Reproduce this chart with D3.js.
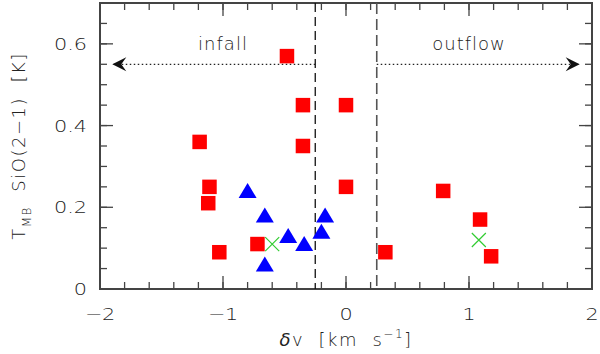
<!DOCTYPE html>
<html lang="en">
<head>
<meta charset="utf-8">
<title>SiO vs dv</title>
<script src="https://cdnjs.cloudflare.com/ajax/libs/d3/7.8.5/d3.min.js"></script>
<style>
  body { margin: 0; background: #fff; }
  text { font-family: "DejaVu Sans", sans-serif; font-weight: 200; fill: #222; white-space: pre; }
</style>
</head>
<body>
<div id="chart"></div>
<script>
// data
var squareX = [-0.48, -1.19, -0.35, -0.35, 0.0, 0.0, 0.79, 1.09, 0.32, 1.18, -1.11, -1.12, -1.03, -0.72];
var squareY = [0.57, 0.36, 0.45, 0.35, 0.45, 0.25, 0.24, 0.17, 0.09, 0.08, 0.25, 0.21, 0.09, 0.11];
var triX = [-0.80, -0.66, -0.66, -0.47, -0.34, -0.20, -0.17];
var triY = [0.24, 0.18, 0.06, 0.13, 0.11, 0.14, 0.18];
var crossX = [-0.60, 1.08];
var crossY = [0.11, 0.12];
var xTicks = [-2, -1, 0, 1, 2];
var yTicks = [0, 0.2, 0.4, 0.6];
var cuts = [-0.25, 0.25];

var width = 600, height = 354;
var pL = 100, pR = 592, pT = 3, pB = 289;

var svg = d3.select("#chart").append("svg").attr("width", width).attr("height", height);

var x = d3.scaleLinear().domain([-2, 2]).range([pL, pR]);
var y = d3.scaleLinear().domain([0, 0.7]).range([pB, pT]);

var frame = "#444";

// minor + major ticks on all four sides
function xticks(values, len) {
    values.forEach(function(v) {
        svg.append("line").attr("x1", x(v)).attr("x2", x(v)).attr("y1", pB).attr("y2", pB - len).attr("stroke", frame).attr("stroke-width", 1.3);
        svg.append("line").attr("x1", x(v)).attr("x2", x(v)).attr("y1", pT).attr("y2", pT + len).attr("stroke", frame).attr("stroke-width", 1.3);
    });
}
function yticks(values, len) {
    values.forEach(function(v) {
        svg.append("line").attr("x1", pL).attr("x2", pL + len).attr("y1", y(v)).attr("y2", y(v)).attr("stroke", frame).attr("stroke-width", 1.3);
        svg.append("line").attr("x1", pR).attr("x2", pR - len).attr("y1", y(v)).attr("y2", y(v)).attr("stroke", frame).attr("stroke-width", 1.3);
    });
}
xticks(d3.range(-2, 2.001, 0.2), 7);
xticks(xTicks, 13);
yticks(d3.range(0, 0.701, 0.05), 7);
yticks(yTicks, 13);

svg.append("rect").attr("x", pL).attr("y", pT).attr("width", pR - pL).attr("height", pB - pT)
    .attr("fill", "none").attr("stroke", frame).attr("stroke-width", 2);

// tick labels: wide plotter-style digits, stretched horizontally
var fmt = d3.format("");
svg.selectAll("text.xt").data(xTicks).enter().append("text")
    .attr("transform", function(d) { return "translate(" + x(d) + ",320) scale(1.3,1)"; })
    .attr("text-anchor", "middle").attr("font-size", "16px")
    .text(function(d) { return fmt(d); });
svg.selectAll("text.yt").data(yTicks).enter().append("text")
    .attr("transform", function(d) { return "translate(87," + (y(d) + 6) + ") scale(1.3,1)"; })
    .attr("text-anchor", "end").attr("font-size", "16px")
    .text(function(d) { return fmt(d); });

// axis titles
svg.append("text").attr("x", 346).attr("y", 346).attr("text-anchor", "middle").attr("font-size", "18px").attr("letter-spacing", "1.5px")
    .html('<tspan font-style="italic">δ</tspan>v  [km  s<tspan dy="-8" font-size="12px">−1</tspan><tspan dy="8">]</tspan>');

var yl = svg.append("text").attr("transform", "translate(25,146) rotate(-90)")
    .attr("text-anchor", "middle").attr("font-size", "18px").attr("letter-spacing", "1.5px");
yl.append("tspan").text("T");
yl.append("tspan").attr("dy", 6).attr("font-size", "12px").text("MB");
yl.append("tspan").attr("dy", -6).text("  SiO(2−1)  [K]");

// velocity cuts
svg.append("line").attr("x1", x(cuts[0])).attr("x2", x(cuts[0])).attr("y1", pT).attr("y2", pB)
    .attr("stroke", "#111").attr("stroke-width", 1.3).attr("stroke-dasharray", "9,5");
svg.append("line").attr("x1", x(cuts[1])).attr("x2", x(cuts[1])).attr("y1", pT).attr("y2", pB)
    .attr("stroke", "#555").attr("stroke-width", 1.6).attr("stroke-dasharray", "11,5");

// infall / outflow arrows
var ya = y(0.55);
svg.append("line").attr("x1", x(cuts[0])).attr("x2", x(-1.9)).attr("y1", ya).attr("y2", ya)
    .attr("stroke", "#222").attr("stroke-width", 1.2).attr("stroke-dasharray", "1.5,2.5");
svg.append("line").attr("x1", x(cuts[1])).attr("x2", x(1.9)).attr("y1", ya).attr("y2", ya)
    .attr("stroke", "#222").attr("stroke-width", 1.2).attr("stroke-dasharray", "1.5,2.5");
svg.append("path").attr("d", "M" + (x(-1.9) + 14) + "," + (ya - 7) + " L" + x(-1.9) + "," + ya + " L" + (x(-1.9) + 14) + "," + (ya + 7) + " L" + (x(-1.9) + 9) + "," + ya + " Z")
    .attr("fill", "#111");
svg.append("path").attr("d", "M" + (x(1.9) - 14) + "," + (ya - 7) + " L" + x(1.9) + "," + ya + " L" + (x(1.9) - 14) + "," + (ya + 7) + " L" + (x(1.9) - 9) + "," + ya + " Z")
    .attr("fill", "#111");
svg.append("text").attr("x", x(-1)).attr("y", 50).attr("text-anchor", "middle").attr("font-size", "18px").attr("letter-spacing", "1px").text("infall");
svg.append("text").attr("x", x(1)).attr("y", 50).attr("text-anchor", "middle").attr("font-size", "18px").attr("letter-spacing", "1px").text("outflow");

// markers
var sq = 14.5;
svg.selectAll("rect.sq").data(squareX).enter().append("rect")
    .attr("x", function(d) { return x(d) - sq / 2; })
    .attr("y", function(d, i) { return y(squareY[i]) - sq / 2; })
    .attr("width", sq).attr("height", sq).attr("fill", "#f00");

svg.selectAll("path.tri").data(triX).enter().append("path")
    .attr("d", function(d, i) {
        var cx = x(d), cy = y(triY[i]);
        return "M" + (cx - 9) + "," + (cy + 7) + " L" + (cx + 9) + "," + (cy + 7) + " L" + cx + "," + (cy - 8) + " Z";
    })
    .attr("fill", "#00f");

svg.selectAll("path.cross").data(crossX).enter().append("path")
    .attr("d", function(d, i) {
        var cx = x(d), cy = y(crossY[i]), r = 7;
        return "M" + (cx - r) + "," + (cy - r) + " L" + (cx + r) + "," + (cy + r) + " M" + (cx - r) + "," + (cy + r) + " L" + (cx + r) + "," + (cy - r);
    })
    .attr("stroke", "#3c3").attr("stroke-width", 1.2).attr("fill", "none");
</script>
</body>
</html>
